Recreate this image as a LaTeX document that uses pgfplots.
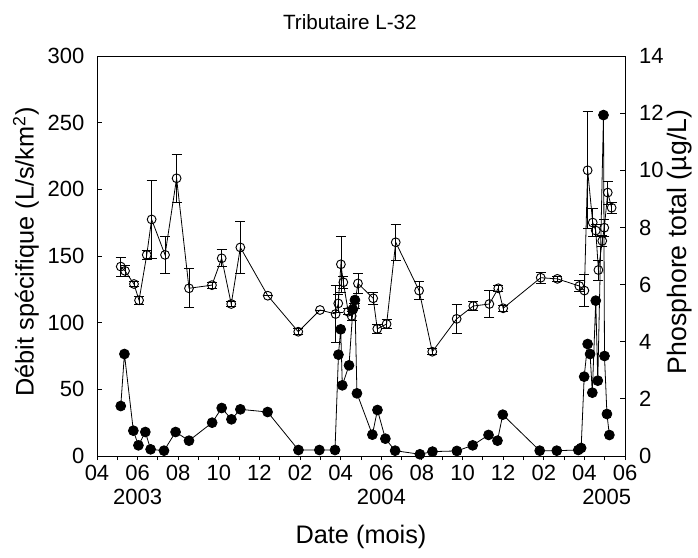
\documentclass[border=0pt]{standalone}
\usepackage{pgfplots}
\pgfplotsset{compat=1.18}
\usepackage{fontspec}
\setmainfont{Liberation Sans}

\pgfplotstableread{
x y
1.17 37.5
1.35 76.5
1.79 19
2.04 8
2.38 18
2.64 5
3.30 4
3.87 18
4.53 11.5
5.67 25
6.14 36
6.62 27.5
7.06 35
8.40 33
9.92 4.5
10.95 4.5
11.72 4.5
11.89 76
12.00 95
12.08 53
12.41 68
12.60 110
12.70 117
12.80 47
13.56 16
13.81 34.5
14.20 13
14.68 4
15.90 1.3
16.52 3.3
17.72 3.8
18.50 8
19.28 15.8
19.72 11.5
19.98 31
21.80 4
22.64 4
23.70 4.5
23.84 6
23.99 59.5
24.16 84
24.28 76.5
24.39 47.5
24.56 116.5
24.66 56.5
24.94 255.7
24.99 75
25.11 31.5
25.23 15.75
}\debit

\pgfplotstableread{
x y e
1.17 6.63 0.33
1.38 6.48 0.2
1.82 6.02 0.1
2.07 5.45 0.15
2.45 7.04 0.15
2.69 8.28 1.35
3.35 7.04 0.66
3.92 9.72 0.85
4.53 5.87 0.68
5.66 5.98 0.1
6.14 6.92 0.3
6.61 5.32 0.1
7.06 7.30 0.92
8.41 5.61 0
9.91 4.35 0.1
10.98 5.11 0
11.75 4.97 1.0
11.88 5.34 0.3
12.01 6.71 0.97
12.13 6.08 0.2
12.37 5.05 0.1
12.54 4.90 0.15
12.68 5.25 0.1
12.85 6.04 0.35
13.60 5.52 0.2
13.80 4.45 0.15
14.26 4.62 0.15
14.71 7.48 0.62
15.86 5.79 0.32
16.51 3.65 0.1
17.71 4.80 0.52
18.53 5.25 0.15
19.32 5.32 0.47
19.76 5.87 0.1
20.00 5.17 0.1
21.85 6.24 0.2
22.67 6.20 0.1
23.75 5.95 0.2
24.00 5.79 0.55
24.16 10.00 2.05
24.41 8.17 0.5
24.56 7.89 0.2
24.69 6.51 0.35
24.88 7.53 0.2
24.98 7.99 0.3
25.15 9.22 0.4
25.34 8.69 0.2
}\phos

\begin{document}
\begin{tikzpicture}
\useasboundingbox (-72.75pt,-75.75pt) rectangle (450.75pt,342pt);
\pgfplotsset{
  every axis/.append style={width=396pt,height=300pt,scale only axis,xmin=0,xmax=26,
    /pgf/number format/assume math mode=true,
    tick label style={font=\fontsize{16.5}{19}\selectfont},
    axis line style={line width=0.7pt},
    tick style={line width=0.7pt, black},
  },
}
% axis 1: x axis, frame, filled series
\begin{axis}[
  ymin=0,ymax=300,
  xtick={0,2,...,26},
  xticklabels={04,06,08,10,12,02,04,06,08,10,12,02,04,06},
  minor x tick num=1,
  xtick pos=bottom, ytick=\empty,
  tick align=outside,
  major tick length=3pt, minor tick length=3pt,
  clip=false,
]
\addplot[black, line width=0.6pt, mark=*, mark size=3.7pt, mark options={fill=black}] table[x=x,y=y] {\debit};
\node[font=\fontsize{16.5}{19}\selectfont] at (axis cs:2,0) [yshift=-30.75pt] {2003};
\node[font=\fontsize{16.5}{19}\selectfont] at (axis cs:14,0) [yshift=-30.75pt] {2004};
\node[font=\fontsize{16.5}{19}\selectfont] at (axis cs:25.1,0) [yshift=-30.75pt] {2005};
\node[font=\fontsize{19}{22}\selectfont] at (axis description cs:0.5,-0.2025) {Date (mois)};
\node[font=\fontsize{15.5}{18}\selectfont] at (axis description cs:0.479,1.085) {Tributaire L-32};
\end{axis}
% axis 2: left y axis
\begin{axis}[
  ymin=0,ymax=300,
  axis x line=none, axis y line*=left,
  ytick={0,50,...,300},
  tick align=inside, major tick length=4pt,
  yticklabel style={xshift=-6pt},
  every axis y label/.style={at={(axis description cs:-0.1345,0.51)},rotate=90,anchor=center,font=\fontsize{19}{22}\selectfont},
  ylabel={Débit spécifique (L/s/km\textsuperscript{2})},
]
\addplot[draw=none] coordinates {(0,0)};
\end{axis}
% axis 3: right y axis with open circles
\begin{axis}[
  ymin=0,ymax=14,
  axis x line=none, axis y line*=right,
  ytick={0,2,...,14},
  tick align=inside, major tick length=4pt,
  yticklabel style={xshift=7pt},
  every axis y label/.style={at={(axis description cs:1.104,0.535)},rotate=90,anchor=center,font=\fontsize{20}{24}\selectfont},
  ylabel={Phosphore total (µg/L)},
  clip=false,
]
\addplot[black, line width=0.6pt, mark=o, mark size=3.3pt, mark options={fill=white, line width=0.7pt},
  error bars/.cd, y dir=both, y explicit,
  error bar style={line width=0.6pt, black},
  error mark options={rotate=90, mark size=3.8pt, line width=0.6pt, black}]
  table[x=x,y=y,y error=e] {\phos};
\end{axis}
\end{tikzpicture}
\end{document}
